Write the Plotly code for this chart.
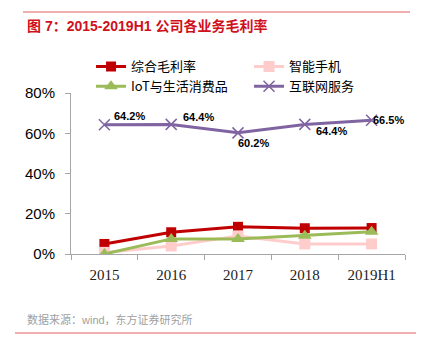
import plotly.graph_objects as go

categories = ["2015", "2016", "2017", "2018", "2019H1"]
overall = [0.05, 0.108, 0.135, 0.128, 0.129]
phone = [0.008, 0.04, 0.09, 0.05, 0.05]
iot = [0.0, 0.075, 0.075, 0.091, 0.11]
internet = [0.642, 0.644, 0.602, 0.644, 0.665]
internet_labels = ["64.2%", "64.4%", "60.2%", "64.4%", "66.5%"]

# label offsets (px) relative to each point: style only
label_dx = [8, 10, -2, 9, -1]
label_dy = [9, 7, -10.5, -7, 0]

fig = go.Figure()
fig.add_trace(go.Scatter(x=categories, y=overall, name="综合毛利率", mode="lines+markers",
                         line=dict(color="#C00000", width=3), legend="legend",
                         marker=dict(symbol="square", size=10, color="#C00000")))
fig.add_trace(go.Scatter(x=categories, y=phone, name="智能手机", mode="lines+markers",
                         line=dict(color="#FFCCCC", width=3), legend="legend2",
                         marker=dict(symbol="square", size=11, color="#FFCCCC")))
fig.add_trace(go.Scatter(x=categories, y=iot, name="IoT与生活消费品", mode="lines+markers",
                         line=dict(color="#9BBB59", width=3), legend="legend",
                         marker=dict(symbol="triangle-up", size=12, color="#9BBB59")))
fig.add_trace(go.Scatter(x=categories, y=internet, name="互联网服务", mode="lines+markers",
                         line=dict(color="#8064A2", width=3), legend="legend2", cliponaxis=False,
                         marker=dict(symbol="x-thin-open", size=11, line=dict(color="#8064A2", width=1.5))))

# category axes place annotations by serial index of the category
for i, (v, t, dx, dy) in enumerate(zip(internet, internet_labels, label_dx, label_dy)):
    fig.add_annotation(x=i, y=v, text="<b>" + t + "</b>", showarrow=False,
                       xanchor="left", yanchor="middle", xshift=dx, yshift=dy,
                       font=dict(family="Liberation Sans", size=11, color="#000000"))

legend_common = dict(orientation="v", yanchor="top", xanchor="left", traceorder="normal",
                     font=dict(family="Noto Sans CJK SC", size=13, color="#000000"),
                     bgcolor="rgba(0,0,0,0)", itemwidth=30, tracegroupgap=0)

fig.update_layout(
    width=421, height=348,
    margin=dict(l=71, r=16, t=93, b=94),
    paper_bgcolor="white", plot_bgcolor="white",
    showlegend=True,
    legend=dict(x=0.06, y=1.258, **legend_common),
    legend2=dict(x=0.533, y=1.258, **legend_common),
    xaxis=dict(type="category", showline=True, linecolor="#A6A6A6", linewidth=1,
               ticks="outside", tickson="boundaries", ticklen=5, tickcolor="#A6A6A6",
               ticklabelstandoff=7, range=[-0.5, 4.5],
               tickfont=dict(family="Liberation Serif", size=15, color="#222222"),
               showgrid=False, zeroline=False),
    yaxis=dict(range=[0, 0.8], dtick=0.2, tickformat=".0%", showline=True,
               linecolor="#A6A6A6", linewidth=1, ticks="outside", ticklen=5,
               ticklabelstandoff=7,
               tickcolor="#A6A6A6", showgrid=False, zeroline=False,
               tickfont=dict(family="Liberation Sans", size=15, color="#000000")),
)

fig.add_annotation(text="<b>图 7：2015-2019H1 公司各业务毛利率</b>", xref="paper", yref="paper",
                   x=-(71 - 25) / 334, y=(254 - 26) / 161, xanchor="left", yanchor="middle",
                   showarrow=False, font=dict(family="Liberation Sans, Noto Sans CJK SC", size=14, color="#D0101B"))
fig.add_annotation(text="数据来源：wind，东方证券研究所", xref="paper", yref="paper",
                   x=-(71 - 25) / 334, y=(254 - 319) / 161, xanchor="left", yanchor="middle",
                   showarrow=False, font=dict(family="Liberation Sans, Noto Sans CJK SC", size=11, color="#A0A0A0"))
fig.add_shape(type="line", xref="paper", yref="paper", x0=-(71 - 23) / 334, x1=(410 - 71) / 334,
              y0=(254 - 12) / 161, y1=(254 - 12) / 161, line=dict(color="#E06060", width=1))
fig.add_shape(type="line", xref="paper", yref="paper", x0=-(71 - 15) / 334, x1=(416 - 71) / 334,
              y0=(254 - 333) / 161, y1=(254 - 333) / 161, line=dict(color="#E06060", width=1))

fig.write_html("out.html")
